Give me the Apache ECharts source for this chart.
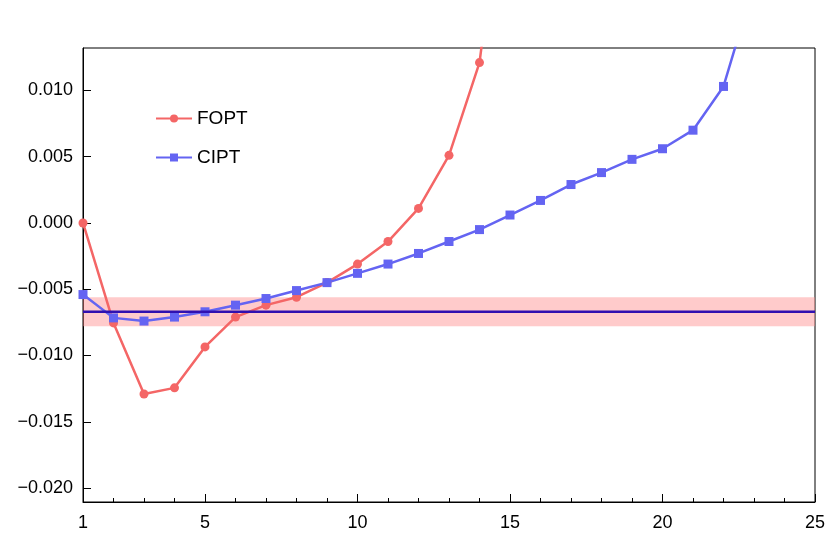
<!DOCTYPE html><html><head><meta charset="utf-8">
<script src="https://cdn.jsdelivr.net/npm/echarts@6/dist/echarts.min.js"></script>
<style>html,body{margin:0;background:#fff}#c{width:830px;height:554px}</style></head><body><div id="c"></div>
<script>
const xs=[1,2,3,4,5,6,7,8,9,10,11,12,13,14,15,16,17,18,19,20,21,22,23];
const fopt=[0.0000,-0.00754,-0.0129,-0.01244,-0.00935,-0.0071,-0.0062,-0.0056,-0.0045,-0.0031,-0.0014,0.0011,0.0051,0.0121,0.030];
const cipt=[-0.0054,-0.00716,-0.0074,-0.0071,-0.0067,-0.0062,-0.0057,-0.0051,-0.0045,-0.0038,-0.0031,-0.0023,-0.0014,-0.0005,0.0006,0.0017,0.0029,0.0038,0.0048,0.0056,0.0070,0.0103,0.018];
const xTicks=[1,5,10,15,20,25];
const yTicks=[-0.02,-0.015,-0.01,-0.005,0,0.005,0.01];
const refVal=-0.0067, bandLo=-0.0078, bandHi=-0.0056;
const fmt=v=>(v<0?'\u2212':'')+Math.abs(v).toFixed(3);
const ax={color:'#000',fontSize:18,fontFamily:'Liberation Sans'};
const c=echarts.init(document.getElementById('c'));
c.setOption({animation:false,
grid:{left:83,right:15,top:48,bottom:52,show:true,borderColor:'#000',borderWidth:1},
legend:{orient:'vertical',left:150,top:104,itemGap:20,itemWidth:36,itemHeight:10,textStyle:{fontSize:19,fontFamily:'Liberation Sans',color:'#000'},data:['FOPT','CIPT']},
xAxis:{type:'value',min:1,max:25,axisLine:{onZero:false,lineStyle:{color:'#000'}},splitLine:{show:false},
 axisTick:{inside:true,length:8,customValues:xTicks,lineStyle:{color:'#000'}},
 minorTick:{show:true,splitNumber:5,length:4,lineStyle:{color:'#000'}},
 axisLabel:{...ax,customValues:xTicks,margin:12}},
yAxis:{type:'value',min:-0.02105,max:0.0132,axisLine:{onZero:false,lineStyle:{color:'#000'}},splitLine:{show:false},
 axisTick:{inside:true,length:8,customValues:yTicks,lineStyle:{color:'#000'}},
 axisLabel:{...ax,customValues:yTicks,formatter:fmt,margin:10}},
series:[
{name:'FOPT',type:'line',data:fopt.map((v,i)=>[xs[i],v]),symbol:'circle',symbolSize:9,color:'#f46666',lineStyle:{width:2.5},z:3},
{name:'CIPT',type:'line',data:cipt.map((v,i)=>[xs[i],v]),symbol:'rect',symbolSize:9,color:'#6464f2',lineStyle:{width:2.5},z:3,
 markArea:{silent:true,itemStyle:{color:'rgba(255,140,140,0.45)'},data:[[{yAxis:bandLo},{yAxis:bandHi}]]}},
{name:'ref',type:'line',data:[[1,refVal],[25,refVal]],symbol:'none',color:'#3010b0',lineStyle:{width:2.5},z:4}
]});
</script></body></html>
